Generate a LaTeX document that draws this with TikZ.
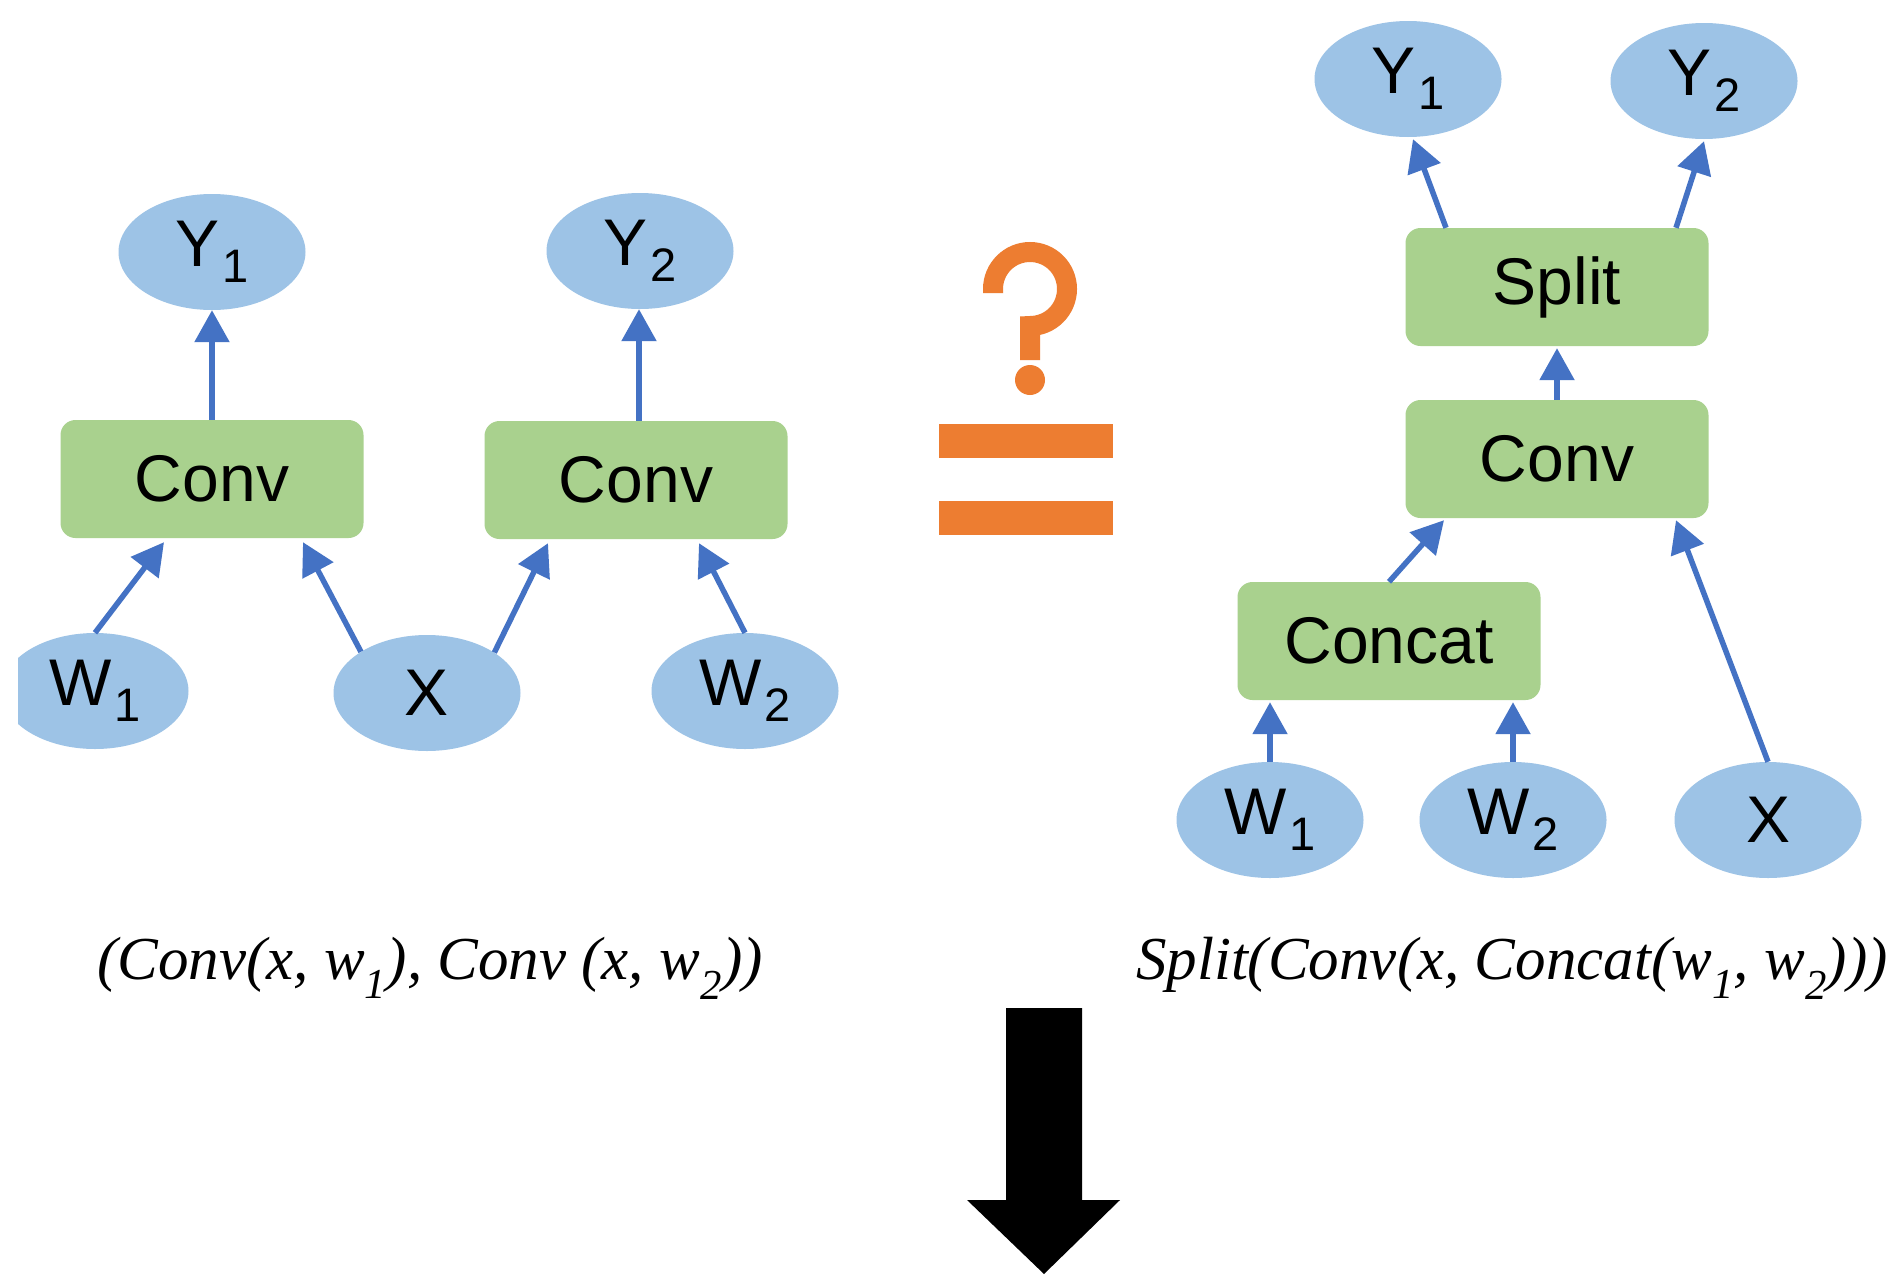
\documentclass[tikz,border=0pt]{standalone}
\usepackage{fontspec}
\setmainfont{Liberation Sans}
\newfontfamily\capfont{Liberation Serif}
\usetikzlibrary{shapes.geometric,arrows.meta}
\definecolor{nodeblue}{HTML}{9DC3E6}
\definecolor{opgreen}{HTML}{A9D18E}
\definecolor{arrblue}{HTML}{4472C4}
\definecolor{qorange}{HTML}{ED7D31}
\newcommand{\lbl}[2]{#1\kern3pt\raisebox{-16pt}{\fontsize{47}{47}\selectfont #2}}
\tikzset{
  tensor/.style={ellipse,fill=nodeblue,minimum width=187pt,minimum height=116pt,inner sep=0pt,font=\fontsize{66}{70}\selectfont},
  opbox/.style={rectangle,rounded corners=15pt,fill=opgreen,minimum width=303pt,minimum height=118pt,inner sep=0pt,font=\fontsize{66}{70}\selectfont},
  arr/.style={draw=arrblue,line width=5.5pt,-{Triangle[width=34pt,length=32pt]},arrblue},
  captxt/.style={font=\capfont\itshape\fontsize{61}{65}\selectfont,inner sep=0pt}
}
\begin{document}
\begin{tikzpicture}[x=1pt,y=-1pt]
\useasboundingbox (0,0) rectangle (1900,1274);
\fill[white] (0,0) rectangle (1900,1274);
\begin{scope}
\clip (18,0) rectangle (1900,1274);
% left graph
\node[tensor] (ly1) at (212,252) {\lbl{Y}{1}};
\node[tensor] (ly2) at (640,251) {\lbl{Y}{2}};
\node[opbox] (lc1) at (212,479) {Conv};
\node[opbox] (lc2) at (636,480) {Conv};
\node[tensor] (lw1) at (95,691) {\lbl{W}{1}};
\node[tensor] (lx) at (427,693) {X};
\node[tensor] (lw2) at (745,691) {\lbl{W}{2}};
\end{scope}
\draw[arr] (lw1.north) -- ([xshift=-48pt,yshift=-4pt]lc1.south);
\draw[arr] (lx.148) -- ([xshift=91pt,yshift=-4pt]lc1.south);
\draw[arr] (lx.31) -- ([xshift=-88pt,yshift=-4pt]lc2.south);
\draw[arr] (lw2.north) -- ([xshift=63pt,yshift=-4pt]lc2.south);
\draw[arr] (lc1.north) -- (lc1.north |- ly1.south);
\draw[arr] ([xshift=3pt]lc2.north) -- ([xshift=3pt]lc2.north |- ly2.south);
% question mark and equals
\coordinate (qc) at (1030,289);
\draw[qorange,line width=20pt] ([xshift=-37pt,yshift=-4pt]qc) -- ([xshift=-37pt]qc) arc[start angle=180,end angle=450,radius=37] -- (1030,360);
\fill[qorange] (1030,380) circle[radius=15];
\fill[qorange] (939,424) rectangle (1113,458);
\fill[qorange] (939,501) rectangle (1113,535);
% right graph
\node[tensor] (ry1) at (1408,79) {\lbl{Y}{1}};
\node[tensor] (ry2) at (1704,81) {\lbl{Y}{2}};
\node[opbox] (rsplit) at (1557,287) {Split};
\node[opbox] (rconv) at (1557,459) {Conv};
\node[opbox] (rcat) at (1389,641) {Concat};
\node[tensor] (rw1) at (1270,820) {\lbl{W}{1}};
\node[tensor] (rw2) at (1513,820) {\lbl{W}{2}};
\node[tensor] (rx) at (1768,820) {X};
\draw[arr] ([xshift=-111pt]rsplit.north) -- ([xshift=5pt,yshift=-2pt]ry1.south);
\draw[arr] ([xshift=119pt]rsplit.north) -- ([yshift=-2pt]ry2.south);
\draw[arr] (rconv.north) -- ([yshift=-2pt]rsplit.south);
\draw[arr] (rcat.north) -- ([xshift=-113pt,yshift=-2pt]rconv.south);
\draw[arr] (rw1.north) -- ([xshift=-119pt,yshift=-2pt]rcat.south);
\draw[arr] (rw2.north) -- ([xshift=124pt,yshift=-2pt]rcat.south);
\draw[arr] (rx.north) -- ([xshift=119pt,yshift=-2pt]rconv.south);
% captions
\node[captxt] (capl) at (430,968) {(Conv(x, w\textsubscript{1}), Conv (x, w\textsubscript{2}))};
\node[captxt] (capr) at (1512,968) {Split(Conv(x, Concat(w\textsubscript{1}, w\textsubscript{2})))};
% big arrow
\fill[black] (1006,1008) -- (1082,1008) -- (1082,1200) -- (1120,1200) -- (1044,1274) -- (967,1200) -- (1006,1200) -- cycle;
\end{tikzpicture}
\end{document}
